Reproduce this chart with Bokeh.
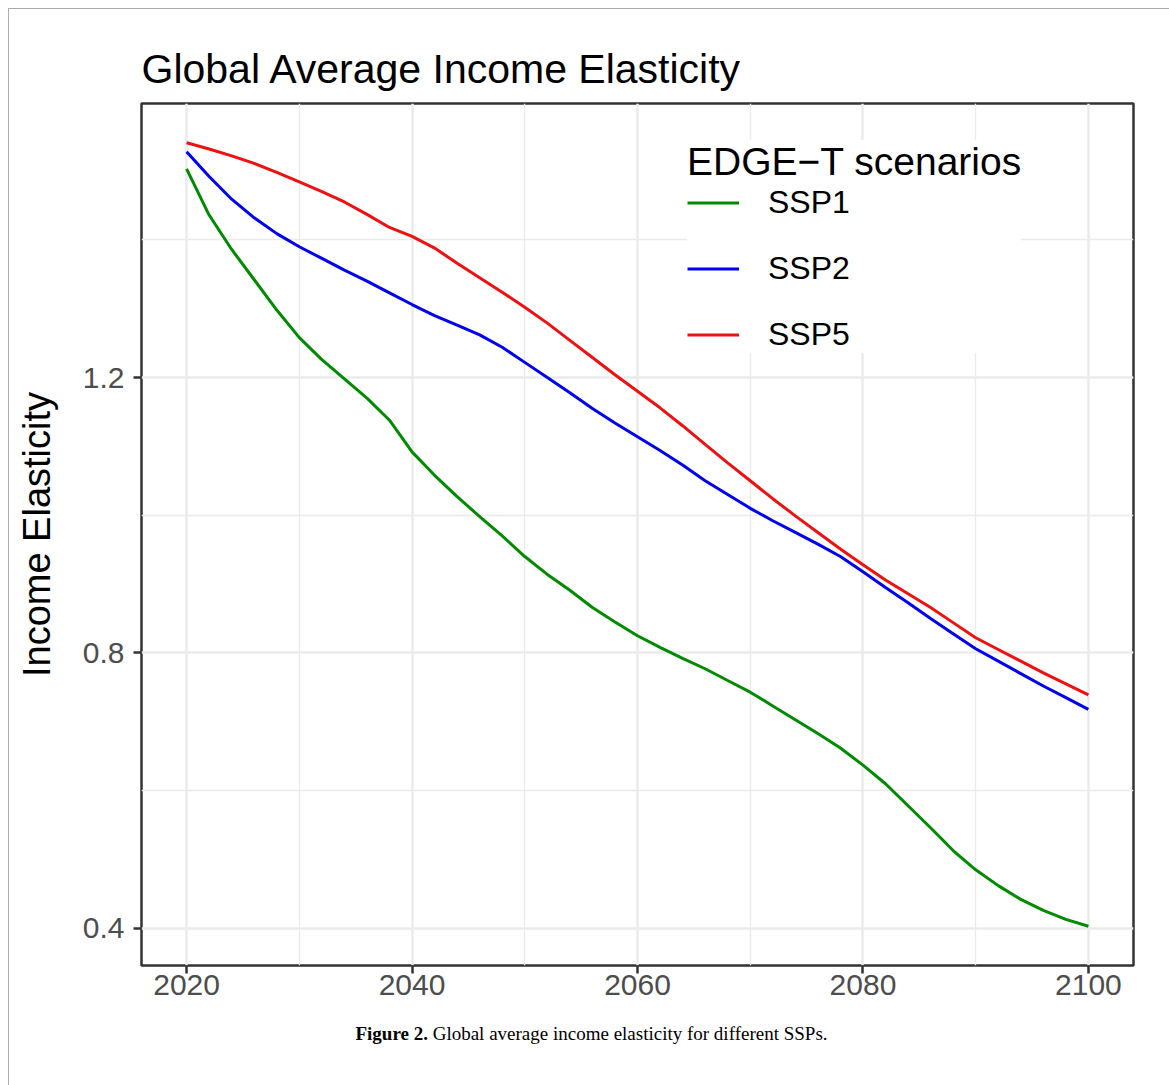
from bokeh.plotting import figure
from bokeh.models import Range1d, FixedTicker, Legend, LegendItem, Title, Div
from bokeh.layouts import column
from bokeh.embed import file_html
from bokeh.resources import INLINE

years = list(range(2020, 2101, 2))
ssp1 = [1.503, 1.436, 1.386, 1.342, 1.298, 1.258, 1.226, 1.198, 1.170, 1.138,
        1.092, 1.058, 1.027, 0.998, 0.970, 0.940, 0.914, 0.891, 0.866, 0.845,
        0.825, 0.808, 0.792, 0.777, 0.760, 0.743, 0.723, 0.703, 0.683, 0.662,
        0.637, 0.610, 0.578, 0.546, 0.513, 0.485, 0.462, 0.442, 0.426, 0.413,
        0.403]
ssp2 = [1.528, 1.492, 1.459, 1.432, 1.409, 1.390, 1.373, 1.356, 1.340, 1.323,
        1.306, 1.290, 1.276, 1.262, 1.244, 1.222, 1.200, 1.178, 1.155, 1.134,
        1.114, 1.094, 1.073, 1.050, 1.030, 1.010, 0.992, 0.975, 0.958, 0.940,
        0.918, 0.895, 0.873, 0.850, 0.828, 0.806, 0.788, 0.770, 0.752, 0.735,
        0.718]
ssp5 = [1.541, 1.532, 1.522, 1.511, 1.498, 1.484, 1.470, 1.455, 1.437, 1.418,
        1.405, 1.388, 1.366, 1.345, 1.324, 1.302, 1.279, 1.254, 1.229, 1.204,
        1.180, 1.156, 1.130, 1.103, 1.076, 1.050, 1.024, 0.999, 0.975, 0.951,
        0.928, 0.906, 0.886, 0.866, 0.844, 0.822, 0.805, 0.788, 0.771, 0.755,
        0.739]
series_names = ["SSP1", "SSP2", "SSP5"]
series_colors = ["#008a00", "#0000ee", "#ee1111"]
x_ticks = [2020, 2040, 2060, 2080, 2100]
x_minor = [2030, 2050, 2070, 2090]
y_ticks = [0.4, 0.8, 1.2]
y_minor = [0.6, 1.0, 1.4]

FONT = "Liberation Sans"

p = figure(width=1155, height=1008,
           x_range=Range1d(2016, 2104), y_range=Range1d(0.346, 1.598),
           output_backend="svg", toolbar_location=None,
           min_border_left=132, min_border_right=31,
           min_border_top=94, min_border_bottom=52)

p.title = Title(text="Global Average Income Elasticity", text_font=FONT,
                text_font_size="41px", text_font_style="normal",
                text_color="#000000", align="left", standoff=24)

renderers = []
for ys, c in zip([ssp1, ssp2, ssp5], series_colors):
    r = p.line(years, ys, line_color=c, line_width=3)
    renderers.append(r)

p.outline_line_color = "#333333"
p.outline_line_width = 2.5
p.background_fill_color = "white"
p.border_fill_color = "white"

for ax in (p.xaxis[0], p.yaxis[0]):
    ax.axis_line_color = None
    ax.major_tick_line_color = "#333333"
    ax.major_tick_line_width = 2.5
    ax.major_tick_out = 8
    ax.major_tick_in = 0
    ax.minor_tick_line_color = None
    ax.major_label_text_font = FONT
    ax.major_label_text_color = "#4d4d4d"
    ax.major_label_text_font_size = "30px"

p.xaxis[0].ticker = FixedTicker(ticks=x_ticks, minor_ticks=x_minor)
p.yaxis[0].ticker = FixedTicker(ticks=y_ticks, minor_ticks=y_minor)
p.xaxis[0].major_label_standoff = 1
p.yaxis[0].major_label_standoff = 9
p.yaxis[0].axis_label = "Income Elasticity"
p.yaxis[0].axis_label_text_font = FONT
p.yaxis[0].axis_label_text_font_size = "38px"
p.yaxis[0].axis_label_text_font_style = "normal"
p.yaxis[0].axis_label_text_color = "#000000"
p.yaxis[0].axis_label_standoff = 22

for g in (p.xgrid[0], p.ygrid[0]):
    g.grid_line_color = "#ebebeb"
    g.grid_line_width = 2.5
    g.minor_grid_line_color = "#ebebeb"
    g.minor_grid_line_width = 1.3

legend = Legend(items=[LegendItem(label=n, renderers=[r]) for n, r in zip(series_names, renderers)],
                title="EDGE\u2212T scenarios", location=(546, 612),
                orientation="vertical")
legend.title_text_font = FONT
legend.title_text_font_size = "39px"
legend.title_text_font_style = "normal"
legend.title_text_color = "#000000"
legend.title_standoff = 0
legend.label_text_font = FONT
legend.label_text_font_size = "32px"
legend.label_text_color = "#000000"
legend.glyph_width = 52
legend.glyph_height = 37
legend.label_height = 37
legend.label_standoff = 29
legend.spacing = 29
legend.padding = 0
legend.margin = 0
legend.background_fill_color = "white"
legend.background_fill_alpha = 1.0
legend.border_line_color = None
p.add_layout(legend)

caption = Div(text="<b>Figure 2.</b> Global average income elasticity for different SSPs.",
              width=1155, height=58,
              styles={"text-align": "center", "font-family": "Liberation Serif",
                      "font-size": "19px", "color": "#000000",
                      "padding-top": "1px", "line-height": "22px"})

layout = column(p, caption, margin=(8, 0, 0, 8),
                styles={"border-left": "1px solid #ababab",
                        "border-right": "1px solid #ababab",
                        "border-top": "1px solid #ababab"})

open("out.html", "w").write(file_html(layout, INLINE))
